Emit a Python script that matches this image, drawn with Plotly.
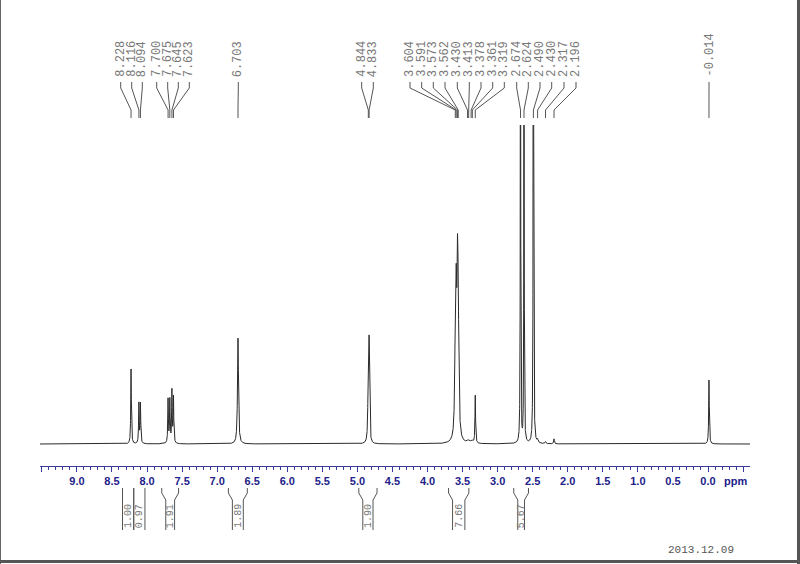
import numpy as np
import plotly.graph_objects as go

# ---------------- data ----------------
peak_ppm = [8.228, 8.116, 8.094, 7.700, 7.675, 7.645, 7.623, 6.703, 4.844, 4.833,
            3.604, 3.591, 3.573, 3.562, 3.430, 3.413, 3.378, 3.361, 3.319,
            2.674, 2.624, 2.490, 2.430, 2.317, 2.196, -0.014]
peak_height = [75, 40, 40, 44, 43, 52, 46, 106, 88, 88,
               80, 118, 138, 104, 1.5, 1.5, 1.5, 1.5, 48,
               600, 500, 900, 3, 2, 5, 64]
peak_hwhm = [0.005, 0.005, 0.005, 0.005, 0.005, 0.005, 0.005, 0.008, 0.006, 0.006,
             0.009, 0.009, 0.009, 0.009, 0.015, 0.015, 0.015, 0.015, 0.005,
             0.003, 0.003, 0.003, 0.008, 0.008, 0.006, 0.005]

label_text = ["8.228", "8.116", "8.094", "7.700", "7.675", "7.645", "7.623", "6.703",
              "4.844", "4.833", "3.604", "3.591", "3.573", "3.562", "3.430", "3.413",
              "3.378", "3.361", "3.319", "2.674", "2.624", "2.490", "2.430", "2.317",
              "2.196", "-0.014"]

integral_start = [8.35, 8.19, 7.79, 6.84, 4.98, 3.70, 2.77]
integral_end = [8.19, 8.03, 7.55, 6.57, 4.72, 3.41, 2.56]
integral_value = ["1.00", "0.97", "1.91", "1.89", "1.90", "7.66", "5.67"]

major_ticks = [9.5, 9.0, 8.5, 8.0, 7.5, 7.0, 6.5, 6.0, 5.5, 5.0, 4.5, 4.0, 3.5,
               3.0, 2.5, 2.0, 1.5, 1.0, 0.5, 0.0, -0.5]
major_tick_text = ["", "9.0", "8.5", "8.0", "7.5", "7.0", "6.5", "6.0", "5.5", "5.0",
                   "4.5", "4.0", "3.5", "3.0", "2.5", "2.0", "1.5", "1.0", "0.5",
                   "0.0", ""]
date_text = "2013.12.09"

# ---------------- layout (pixel geometry) ----------------
W, H = 800, 564
PX0, PXPP = 708.0, 70.12          # pixel of 0 ppm, pixels per ppm
AX_L, AX_R = 40, 750              # axis extent in pixels
AX_Y, TOP_Y, BASE_Y = 466, 125, 444
label_px = [120.7, 131.7, 142.3, 156.7, 167.7, 178.3, 189.3, 238.3,
            361.7, 373.3, 410.0, 421.7, 433.3, 445.0, 457.3, 469.3,
            481.0, 492.7, 504.3, 516.7, 528.3, 540.0, 551.7, 564.0,
            576.0, 709.0]


def px2ppm(px):
    return (PX0 - px) / PXPP


def py(p):
    return (H - p) / H


x_lo, x_hi = px2ppm(AX_L), px2ppm(AX_R)

x = np.linspace(x_lo, x_hi, 14000)
y = np.zeros_like(x)
for p, h, w in zip(peak_ppm, peak_height, peak_hwhm):
    y += h / (1.0 + ((x - p) / w) ** 2)

fig = go.Figure()
fig.add_trace(go.Scatter(x=x, y=y, mode="lines",
                         line=dict(color="#2a2a2a", width=1),
                         hoverinfo="skip", showlegend=False))

shapes = []
annotations = []
lab_col = "#787878"
mono = "Liberation Mono, Courier New, monospace"

# peak labels and connectors
for txt, p, lp in zip(label_text, peak_ppm, label_px):
    lx = px2ppm(lp)
    shapes.append(dict(type="path", xref="x", yref="paper",
                       path=f"M {lx},{py(82)} L {lx},{py(88)} L {p},{py(110)} L {p},{py(118)}",
                       line=dict(color="#555555", width=1)))
    annotations.append(dict(x=lx, y=py(79), xref="x", yref="paper", text=txt,
                            textangle=-90, showarrow=False, xanchor="center",
                            yanchor="bottom",
                            font=dict(family=mono, size=12, color=lab_col)))

# integrals
for s, e, v in zip(integral_start, integral_end, integral_value):
    wpx = (s - e) * PXPP
    inset = 4.0 / PXPP if wpx > 14 else 0.0
    si, ei = s - inset, e + inset
    path = (f"M {s},{py(488)} L {s},{py(493)} L {si},{py(500)} L {si},{py(530)} "
            f"M {e},{py(488)} L {e},{py(493)} L {ei},{py(500)} L {ei},{py(530)}")
    shapes.append(dict(type="path", xref="x", yref="paper", path=path,
                       line=dict(color="#555555", width=1)))
    annotations.append(dict(x=(s + e) / 2, y=py(516), xref="x", yref="paper", text=v,
                            textangle=-90, showarrow=False, xanchor="center",
                            yanchor="middle",
                            font=dict(family=mono, size=10, color=lab_col)))

# ppm unit label
annotations.append(dict(x=735 / W, y=py(481), xref="paper", yref="paper", text="ppm",
                        showarrow=False, xanchor="center", yanchor="middle",
                        font=dict(family="Liberation Sans, Arial", size=11,
                                  color="#22228a", weight="bold")))
# date
annotations.append(dict(x=701 / W, y=py(550), xref="paper", yref="paper", text=date_text,
                        showarrow=False, xanchor="center", yanchor="middle",
                        font=dict(family=mono, size=11, color="#555555")))

# frame
shapes.append(dict(type="line", xref="paper", yref="paper", x0=0.5 / W, x1=0.5 / W,
                   y0=0, y1=1, line=dict(color="#666666", width=1)))
shapes.append(dict(type="line", xref="paper", yref="paper", x0=798.5 / W, x1=798.5 / W,
                   y0=0, y1=1, line=dict(color="#555555", width=3)))
shapes.append(dict(type="line", xref="paper", yref="paper", x0=0, x1=1,
                   y0=py(561.5), y1=py(561.5), line=dict(color="#555555", width=3)))

fig.update_layout(
    width=W, height=H, autosize=False,
    margin=dict(l=0, r=0, t=0, b=0, pad=0),
    paper_bgcolor="white", plot_bgcolor="white",
    showlegend=False,
    shapes=shapes, annotations=annotations,
    xaxis=dict(domain=[AX_L / W, AX_R / W], range=[x_lo, x_hi],
               showgrid=False, zeroline=False,
               showline=True, linecolor="#3a3a9a", linewidth=1,
               ticks="outside", ticklen=5, tickcolor="#3a3a9a", tickwidth=1,
               tickmode="array", tickvals=major_ticks, ticktext=major_tick_text,
               tickfont=dict(family="Liberation Sans, Arial", size=11,
                             color="#22228a", weight="bold"),
               minor=dict(dtick=0.1, tick0=0, ticks="outside", ticklen=3,
                          tickcolor="#3a3a9a", showgrid=False)),
    yaxis=dict(domain=[py(AX_Y), py(TOP_Y)],
               range=[-(AX_Y - BASE_Y), BASE_Y - TOP_Y],
               visible=False, showgrid=False, zeroline=False),
)

fig.write_html("out.html",
               config={"displayModeBar": False},
               post_script="document.body.style.margin='0';"
                           "document.body.style.overflow='hidden';")
